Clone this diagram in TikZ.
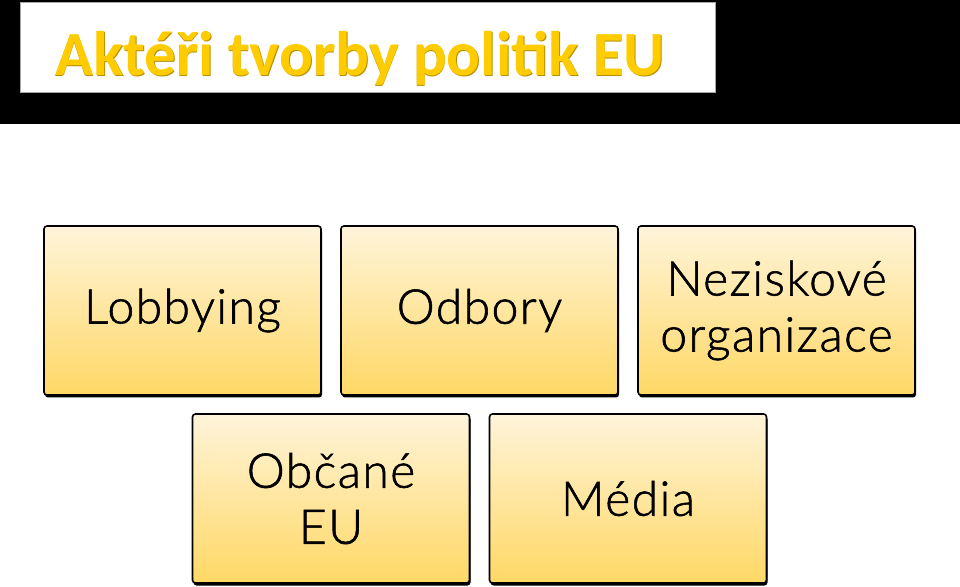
\documentclass[tikz,border=0pt]{standalone}
\usepackage{fontspec}
\setmainfont{Carlito}
\newfontfamily\boxfont[FakeBold=1.2, LetterSpace=3]{Lato Light}
\usetikzlibrary{positioning}
\definecolor{titlefill}{HTML}{FFCC00}
\definecolor{titleedge}{HTML}{B88F00}
\definecolor{boxtop}{HTML}{FFF4DA}
\definecolor{boxbot}{HTML}{FFD865}
\tikzset{
  actor/.style={draw=black, line width=1.6pt, rounded corners=3pt,
    minimum width=277pt, minimum height=169pt, inner sep=0pt,
    top color=boxtop, bottom color=boxbot, align=center,
    font=\boxfont\fontsize{48}{56}\selectfont, text=black},
  actorshadow/.style={fill=black, rounded corners=3pt,
    minimum width=277pt, minimum height=169pt, inner sep=0pt},
  titletext/.style={font=\fontsize{63}{70}\selectfont\bfseries, anchor=base, inner sep=0pt}
}
\begin{document}
\begin{tikzpicture}[x=1pt,y=1pt]
\useasboundingbox (0,0) rectangle (960,586);
\fill[white] (0,0) rectangle (960,586);
% header band
\fill[black] (0,462) rectangle (960,586);
\draw[fill=white, draw=gray!70, line width=0.8pt] (20,494) rectangle (715,584);
% title
\node[titletext, text=titleedge] (titleshadow) at (360.8,509.2) {Aktéři tvorby politik EU};
\node[titletext, text=titlefill] (title) at (360,510) {Aktéři tvorby politik EU};
% shadows
\node[actorshadow] (s1) at (183.5,273) {};
\node[actorshadow] (s2) at (480.5,273) {};
\node[actorshadow] (s3) at (777.5,273) {};
\node[actorshadow] (s4) at (332,85) {};
\node[actorshadow] (s5) at (629,85) {};
% boxes
\node[actor] (lobby) at (182.5,275.5) {Lobbying};
\node[actor] (odbory) at (479.5,275.5) {Odbory};
\node[actor] (nno) at (776.5,275.5) {Neziskové\\organizace};
\node[actor] (obcane) at (331,87.5) {Občané\\EU};
\node[actor] (media) at (628,87.5) {Média};
\end{tikzpicture}
\end{document}
